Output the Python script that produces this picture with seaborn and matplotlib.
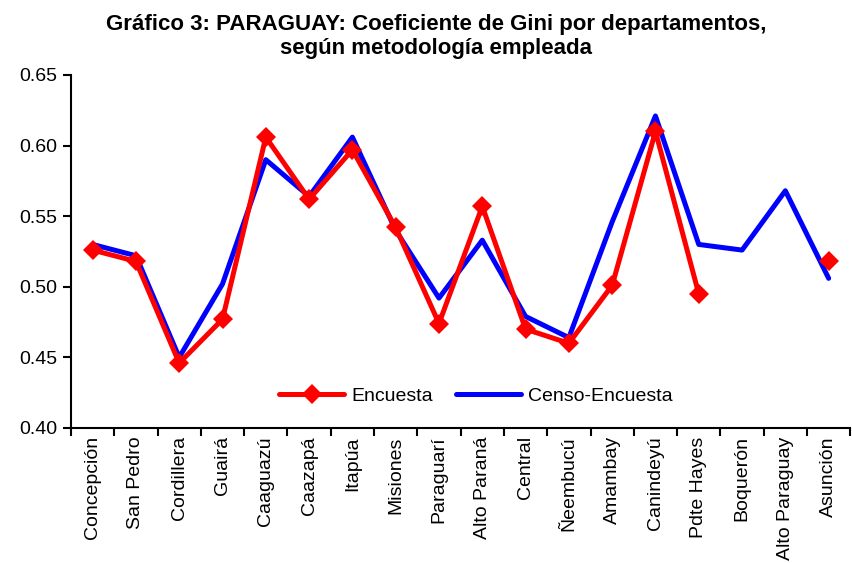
import matplotlib
matplotlib.use("Agg")
import matplotlib.pyplot as plt
from matplotlib.lines import Line2D
import numpy as np
import pandas as pd
import seaborn as sns

departamentos = ["Concepción", "San Pedro", "Cordillera", "Guairá", "Caaguazú",
                 "Caazapá", "Itapúa", "Misiones", "Paraguarí", "Alto Paraná",
                 "Central", "Ñeembucú", "Amambay", "Canindeyú", "Pdte Hayes",
                 "Boquerón", "Alto Paraguay", "Asunción"]
encuesta = [0.526, 0.518, 0.446, 0.477, 0.606, 0.562, 0.597, 0.542, 0.474,
            0.557, 0.470, 0.460, 0.501, 0.610, 0.495, np.nan, np.nan, 0.518]
censo_encuesta = [0.530, 0.522, 0.450, 0.502, 0.590, 0.564, 0.606, 0.540, 0.492,
                  0.533, 0.479, 0.464, 0.546, 0.621, 0.530, 0.526, 0.568, 0.506]

sns.set_style("white")
plt.rcParams['font.family'] = ['Liberation Sans Narrow', 'Liberation Sans', 'DejaVu Sans']
plt.rcParams['text.color'] = 'black'
plt.rcParams['xtick.color'] = 'black'
plt.rcParams['ytick.color'] = 'black'

pos = np.arange(len(departamentos))
enc = pd.DataFrame({"x": pos, "y": encuesta})
# segment id so the gap (Boquerón, Alto Paraguay) is not bridged
enc["seg"] = enc["y"].isna().cumsum()
enc = enc.dropna()
cen = pd.DataFrame({"x": pos, "y": censo_encuesta})

fig = plt.figure(figsize=(8.52, 5.63), dpi=100)
ax = fig.add_axes([0.0833, 0.2398, 0.9147, 0.627])

sns.lineplot(data=cen, x="x", y="y", color="#0000ff", lw=3.6, ax=ax,
             solid_capstyle="round")
sns.lineplot(data=enc, x="x", y="y", units="seg", estimator=None, color="#ff0000",
             lw=3.6, marker="D", markersize=10, markeredgewidth=0, ax=ax)

ax.set_xlim(-0.5, len(departamentos) - 0.5)
ax.set_ylim(0.40, 0.65)
ax.set_yticks(np.arange(0.40, 0.651, 0.05))
ax.set_yticklabels([f"{v:.2f}" for v in np.arange(0.40, 0.651, 0.05)], fontsize=14)
ax.set_xticks(np.arange(-0.5, len(departamentos), 1.0))
ax.set_xticklabels([])
ax.set_xticks(pos, minor=True)
ax.set_xticklabels(departamentos, minor=True, rotation=90, fontsize=14)
ax.tick_params(axis="x", which="major", bottom=True, direction="out", length=6, width=1.5)
ax.tick_params(axis="x", which="minor", bottom=True, length=0, pad=6)
ax.tick_params(axis="y", left=True, direction="out", length=6, width=1.5, pad=4)
ax.set_xlabel("")
ax.set_ylabel("")
for s in ["top", "right"]:
    ax.spines[s].set_visible(False)
for s in ["left", "bottom"]:
    ax.spines[s].set_color("black")
    ax.spines[s].set_linewidth(1.5)

handles = [Line2D([], [], color="#ff0000", lw=3.6, marker="D", markersize=10, markeredgewidth=0),
           Line2D([], [], color="#0000ff", lw=3.6)]
ax.legend(handles, ["Encuesta", "Censo-Encuesta"], loc="lower center",
          bbox_to_anchor=(0.52, 0.015), ncol=2, frameon=False, fontsize=14,
          handlelength=3.3, columnspacing=1.2, handletextpad=0.4)

fig.text(0.512, 0.975, "Gráfico 3: PARAGUAY: Coeficiente de Gini por departamentos,\nsegún metodología empleada",
         ha="center", va="top", fontsize=16, fontweight="bold", linespacing=1.2)

fig.savefig("out.png", dpi=100)
